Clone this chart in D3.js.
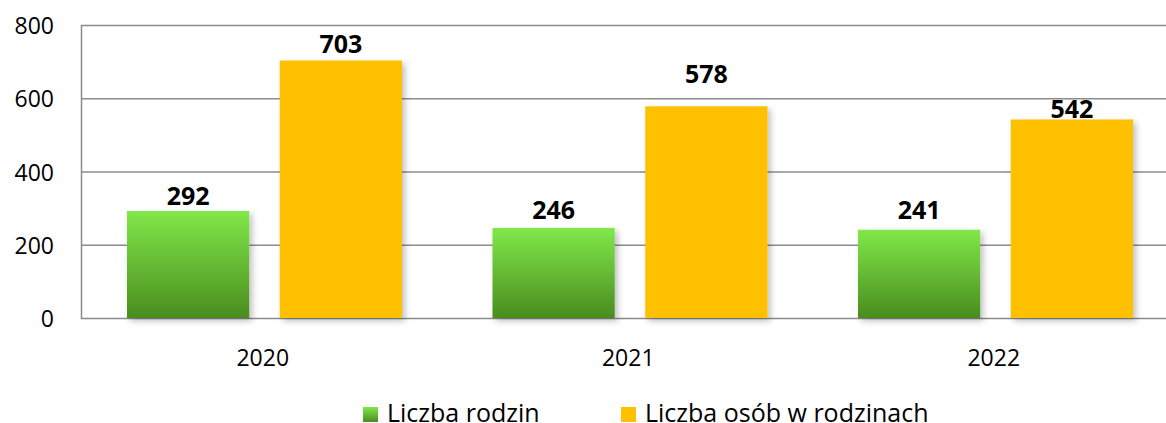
<!DOCTYPE html>
<html>
<head>
<meta charset="utf-8">
<script src="https://cdn.jsdelivr.net/npm/d3@7"></script>
<style>
  body { margin: 0; background: #fff; }
  text { font-family: "Open Sans", "Noto Sans", sans-serif; }
</style>
</head>
<body>
<div id="graph"></div>
<script>
var years = ['2020', '2021', '2022']
var seriesNames = ['Liczba rodzin', 'Liczba osób w rodzinach']
var rodziny = [292, 246, 241]
var osoby = [703, 578, 542]
var yTicks = [0, 200, 400, 600, 800]
// how far each value label sits above its bar (rodziny, osoby per year)
var labelLift = [15, 16, 18, 32, 19, 10]

var width = 1166, height = 423
var plotLeft = 81, plotTop = 25, plotBottom = 318

var svg = d3.select('#graph').append('svg')
  .attr('width', width).attr('height', height)

var defs = svg.append('defs')
var grad = defs.append('linearGradient').attr('id', 'green')
  .attr('x1', 0).attr('y1', 0).attr('x2', 0).attr('y2', 1)
grad.append('stop').attr('offset', '0%').attr('stop-color', '#80e84a')
grad.append('stop').attr('offset', '100%').attr('stop-color', '#4a8c1e')

var shadow = defs.append('filter').attr('id', 'shadow')
  .attr('x', '-20%').attr('y', '-20%').attr('width', '150%').attr('height', '150%')
shadow.append('feDropShadow')
  .attr('dx', 3).attr('dy', 3).attr('stdDeviation', 3)
  .attr('flood-color', '#000').attr('flood-opacity', 0.25)

var x = d3.scaleBand().domain(years).range([plotLeft, plotLeft + 3 * 365.5])
var xs = d3.scaleBand().domain(seriesNames).range([46, 321]).paddingInner(0.2)
var y = d3.scaleLinear().domain([0, 800]).range([plotBottom, plotTop])

// gridlines
svg.append('g').selectAll('line').data(yTicks).join('line')
  .attr('x1', plotLeft).attr('x2', width)
  .attr('y1', d => y(d) + 0.5).attr('y2', d => y(d) + 0.5)
  .attr('stroke', '#8c8c8c').attr('stroke-width', 1.5)

// left axis line
svg.append('line')
  .attr('x1', plotLeft + 0.5).attr('x2', plotLeft + 0.5)
  .attr('y1', plotTop).attr('y2', plotBottom + 1)
  .attr('stroke', '#8c8c8c').attr('stroke-width', 1.5)

// y tick labels
svg.append('g').selectAll('text').data(yTicks).join('text')
  .attr('x', 54).attr('y', d => y(d) + 1)
  .attr('dy', '0.35em').attr('text-anchor', 'end')
  .attr('font-size', 23).attr('fill', '#000')
  .text(d => d)

// x labels
svg.append('g').selectAll('text').data(years).join('text')
  .attr('x', d => x(d) + x.bandwidth() / 2 - 1).attr('y', 358)
  .attr('dy', '0.35em').attr('text-anchor', 'middle')
  .attr('font-size', 23).attr('fill', '#000')
  .text(d => d)

var rows = []
years.forEach(function(yr, i){
  rows.push({year: yr, series: seriesNames[0], value: rodziny[i], fill: 'url(#green)'})
  rows.push({year: yr, series: seriesNames[1], value: osoby[i], fill: '#ffc000'})
})

svg.append('g').selectAll('rect').data(rows).join('rect')
  .attr('x', d => x(d.year) + xs(d.series))
  .attr('y', d => y(d.value))
  .attr('width', xs.bandwidth())
  .attr('height', d => y(0) - y(d.value))
  .attr('fill', d => d.fill)
  .attr('filter', 'url(#shadow)')

svg.append('g').selectAll('text').data(rows).join('text')
  .attr('x', d => x(d.year) + xs(d.series) + xs.bandwidth() / 2)
  .attr('y', (d, i) => y(d.value) - labelLift[i])
  .attr('dy', '0.35em').attr('text-anchor', 'middle')
  .attr('font-size', 25).attr('font-weight', 'bold').attr('fill', '#000')
  .text(d => d.value)

// legend
var legendX = [363, 621]
var leg = svg.append('g').selectAll('g').data(seriesNames).join('g')
  .attr('transform', (d, i) => 'translate(' + legendX[i] + ',407)')
leg.append('rect').attr('width', 15).attr('height', 15)
  .attr('fill', (d, i) => i == 0 ? 'url(#green)' : '#ffc000')
leg.append('text').attr('x', 24).attr('y', 6).attr('dy', '0.35em')
  .attr('font-size', 25).attr('fill', '#000')
  .text(d => d)
</script>
</body>
</html>
